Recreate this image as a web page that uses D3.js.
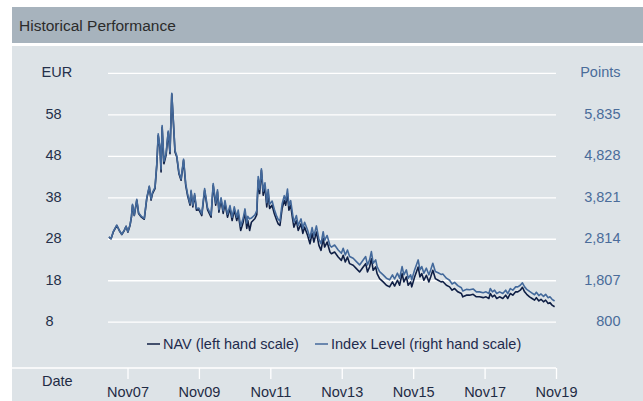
<!DOCTYPE html>
<html>
<head>
<meta charset="utf-8">
<script src="https://cdn.jsdelivr.net/npm/d3@7"></script>
<style>
  body { margin: 0; background: #fff; }
  svg text { font-family: "Liberation Sans", Arial, sans-serif; }
  .grid line { stroke: #fff; stroke-width: 1.3; }
  .grid path { display: none; }
  .axis--x path { display: none; }
  .axis--x line { stroke: #fff; stroke-width: 1.3; }
  .axis--x text { font-size: 14.5px; fill: #1f2b45; }
</style>
</head>
<body>
<div id="chart"></div>
<script>
// data (dates as decimal years)
var dates = [2007.31, 2007.37, 2007.43, 2007.53, 2007.60, 2007.67, 2007.74, 2007.79, 2007.84, 2007.90,
  2007.94, 2007.97, 2008.02, 2008.09, 2008.14, 2008.22, 2008.30, 2008.37, 2008.44, 2008.49,
  2008.53, 2008.60, 2008.65, 2008.69, 2008.74, 2008.77, 2008.80, 2008.85, 2008.91, 2008.97,
  2009.02, 2009.07, 2009.12, 2009.16, 2009.21, 2009.27, 2009.33, 2009.40, 2009.46, 2009.51,
  2009.58, 2009.61, 2009.66, 2009.71, 2009.76, 2009.83, 2009.91, 2009.99, 2010.07, 2010.17,
  2010.23, 2010.30, 2010.35, 2010.39, 2010.45, 2010.51, 2010.56, 2010.63, 2010.70, 2010.76,
  2010.82, 2010.89, 2010.93, 2011.00, 2011.07, 2011.12, 2011.17, 2011.20, 2011.25, 2011.30,
  2011.40, 2011.45, 2011.49, 2011.53, 2011.58, 2011.63, 2011.68, 2011.73, 2011.77, 2011.81,
  2011.88, 2011.94, 2012.01, 2012.05, 2012.10, 2012.16, 2012.22, 2012.26, 2012.31, 2012.35,
  2012.40, 2012.45, 2012.49, 2012.56, 2012.61, 2012.69, 2012.74, 2012.79, 2012.87, 2012.94,
  2013.00, 2013.05, 2013.12, 2013.19, 2013.25, 2013.31, 2013.35, 2013.42, 2013.50, 2013.54,
  2013.63, 2013.73, 2013.82, 2013.87, 2013.93, 2013.99, 2014.05, 2014.15, 2014.24, 2014.33,
  2014.43, 2014.50, 2014.55, 2014.61, 2014.66, 2014.71, 2014.78, 2014.82, 2014.89, 2014.99,
  2015.08, 2015.17, 2015.25, 2015.31, 2015.39, 2015.45, 2015.52, 2015.57, 2015.64, 2015.69,
  2015.76, 2015.79, 2015.87, 2015.97, 2016.02, 2016.07, 2016.13, 2016.20, 2016.27, 2016.32,
  2016.38, 2016.45, 2016.53, 2016.61, 2016.66, 2016.76, 2016.85, 2016.92, 2016.99, 2017.08,
  2017.18, 2017.22, 2017.32, 2017.41, 2017.51, 2017.60, 2017.69, 2017.79, 2017.87, 2017.95,
  2017.99, 2018.05, 2018.11, 2018.17, 2018.25, 2018.34, 2018.42, 2018.48, 2018.55, 2018.62,
  2018.70, 2018.76, 2018.83, 2018.89, 2018.95, 2019.01, 2019.09, 2019.16, 2019.23, 2019.28,
  2019.35, 2019.41, 2019.48, 2019.54, 2019.61, 2019.66, 2019.72, 2019.79];

// NAV in EUR (left hand scale)
var nav = [28.4, 28.0, 29.6, 31.2, 30.0, 29.0, 30.0, 31.0, 29.6, 31.2,
  33.2, 36.1, 33.6, 37.3, 34.1, 33.2, 32.7, 37.7, 40.5, 37.3,
  38.9, 40.1, 45.7, 52.9, 49.7, 44.1, 54.9, 46.1, 48.1, 53.7,
  48.5, 62.9, 55.3, 48.9, 47.7, 43.7, 42.1, 46.9, 40.9, 38.5,
  36.1, 39.3, 35.7, 38.5, 34.9, 35.0, 33.6, 39.7, 35.0, 33.2,
  40.9, 36.1, 39.3, 34.4, 37.3, 34.1, 36.5, 33.2, 35.3, 32.4,
  34.9, 32.4, 34.1, 30.0, 32.0, 34.4, 30.5, 32.4, 30.0, 32.0,
  32.9, 33.8, 42.1, 38.9, 44.5, 38.5, 40.5, 35.7, 38.9, 35.3,
  36.1, 34.1, 32.4, 31.6, 31.2, 35.3, 37.3, 36.1, 38.9, 34.9,
  36.1, 33.0, 30.8, 32.4, 30.0, 31.6, 29.3, 30.8, 28.9, 26.8,
  29.3, 27.2, 29.6, 26.4, 25.2, 28.1, 26.0, 27.2, 24.8, 24.4,
  24.8, 23.6, 22.8, 24.0, 22.4, 23.6, 22.0, 21.6, 20.8, 20.0,
  21.2, 22.0, 20.0, 21.2, 23.2, 20.4, 21.2, 19.6, 18.4, 17.6,
  16.8, 16.4, 17.6, 16.6, 18.0, 16.8, 19.6, 17.6, 18.8, 16.8,
  17.6, 16.4, 18.8, 21.2, 18.8, 19.6, 18.0, 19.2, 17.6, 18.8,
  20.4, 18.4, 18.0, 17.6, 17.7, 16.8, 16.4, 15.6, 16.0, 15.2,
  14.8, 14.0, 14.4, 14.4, 14.6, 14.0, 14.0, 13.8, 14.0, 13.6,
  14.8, 14.0, 14.4, 13.6, 14.0, 13.6, 14.4, 13.6, 14.8, 14.4,
  15.2, 15.2, 15.6, 16.3, 15.2, 14.6, 14.0, 13.6, 13.2, 13.8,
  13.0, 13.4, 12.8, 13.2, 12.4, 12.6, 12.0, 11.6];

// Index level in points (right hand scale)
var indexLevel = [2864, 2814, 2985, 3146, 3015, 2924, 3025, 3116, 2985, 3146,
  3347, 3649, 3388, 3770, 3448, 3357, 3307, 3811, 4093, 3780,
  3941, 4062, 4626, 5361, 5029, 4505, 5563, 4697, 4878, 5432,
  4928, 6348, 5593, 4959, 4828, 4425, 4264, 4747, 4153, 3911,
  3670, 3992, 3629, 3911, 3549, 3559, 3418, 4032, 3569, 3388,
  4153, 3680, 4002, 3519, 3811, 3498, 3740, 3408, 3619, 3337,
  3589, 3337, 3509, 3116, 3317, 3539, 3196, 3357, 3297, 3317,
  3398, 3498, 4324, 4012, 4515, 3972, 4173, 3690, 4012, 3649,
  3730, 3529, 3357, 3287, 3247, 3660, 3861, 3740, 4022, 3619,
  3740, 3428, 3216, 3378, 3136, 3297, 3065, 3216, 3035, 2834,
  3086, 2884, 3126, 2804, 2693, 2985, 2773, 2894, 2652, 2612,
  2663, 2542, 2461, 2582, 2421, 2542, 2381, 2340, 2260, 2179,
  2300, 2381, 2179, 2300, 2501, 2220, 2300, 2139, 2018, 1938,
  1857, 1817, 1938, 1837, 1978, 1857, 2139, 1938, 2058, 1857,
  1938, 1817, 2058, 2300, 2058, 2139, 1978, 2099, 1938, 2058,
  2220, 2018, 1988, 1948, 1958, 1857, 1807, 1716, 1756, 1676,
  1625, 1545, 1585, 1575, 1595, 1525, 1525, 1505, 1525, 1484,
  1605, 1525, 1565, 1484, 1525, 1484, 1565, 1484, 1605, 1565,
  1646, 1646, 1686, 1746, 1646, 1585, 1535, 1494, 1454, 1515,
  1434, 1474, 1414, 1464, 1384, 1404, 1343, 1303];

var leftTicks = [8, 18, 28, 38, 48, 58];
var rightTicks = [800, 1807, 2814, 3821, 4828, 5835];
var xTickYears = [2007.83, 2009.83, 2011.83, 2013.83, 2015.83, 2017.83, 2019.83];
var xTickLabels = ["Nov07", "Nov09", "Nov11", "Nov13", "Nov15", "Nov17", "Nov19"];
var seriesNames = ["NAV (left hand scale)", "Index Level (right hand scale)"];

var W = 643, H = 401;
var navColor = "#0f1f45", idxColor = "#43699b";

// 1: svg + background panels
var svg = d3.select("#chart").append("svg")
    .attr("width", W)
    .attr("height", H);

svg.append("rect").attr("x", 12).attr("y", 7).attr("width", W - 12).attr("height", 36)
    .attr("fill", "#a7b3bd");
svg.append("text").attr("x", 19).attr("y", 31)
    .attr("font-size", "15.5px").attr("fill", "#2b2b2b")
    .text("Historical Performance");
svg.append("rect").attr("x", 12).attr("y", 46).attr("width", W - 12).attr("height", H - 46)
    .attr("fill", "#dde3e7");

// 2: scales
var x = d3.scaleLinear().domain([2007.83, 2019.83]).range([127.5, 556]);
var y = d3.scaleLinear().domain([8, 68]).range([321.7, 72.9]);
var yRight = d3.scaleLinear().domain([800, 6842]).range([321.7, 72.9]);
var plotLeft = 108, plotRight = 556;

// 3: grid
var yGrid = d3.axisLeft(y).tickValues(leftTicks.concat([68]))
    .tickSize(-(plotRight - plotLeft)).tickFormat("");
svg.append("g")
    .attr("class", "grid")
    .attr("transform", "translate(" + plotLeft + ",0)")
    .call(yGrid);

// 4: y labels
svg.append("g").selectAll("text")
    .data(leftTicks)
  .enter().append("text")
    .attr("x", 45.5)
    .attr("y", function(d) { return y(d) + 4.5; })
    .attr("font-size", "14.5px").attr("fill", "#25304a")
    .text(function(d) { return d; });
svg.append("text").attr("x", 41.5).attr("y", y(68) + 4.5)
    .attr("font-size", "14.5px").attr("fill", "#25304a").text("EUR");

var fmt = d3.format(",");
svg.append("g").selectAll("text")
    .data(rightTicks)
  .enter().append("text")
    .attr("x", 620.5)
    .attr("y", function(d) { return yRight(d) + 4.5; })
    .attr("text-anchor", "end")
    .attr("font-size", "14.5px").attr("fill", "#4a6c9a")
    .text(function(d) { return fmt(d); });
svg.append("text").attr("x", 620.5).attr("y", y(68) + 4.5)
    .attr("text-anchor", "end")
    .attr("font-size", "14.5px").attr("fill", "#4a6c9a").text("Points");

// 5: lines
var navLine = d3.line()
    .x(function(d, i) { return x(dates[i]); })
    .y(function(d) { return y(d); });
var idxLine = d3.line()
    .x(function(d, i) { return x(dates[i]); })
    .y(function(d) { return yRight(d); });

svg.append("path")
    .attr("d", navLine(nav))
    .attr("fill", "none").attr("stroke", navColor)
    .attr("stroke-width", 1.6).attr("stroke-linejoin", "round");
svg.append("path")
    .attr("d", idxLine(indexLevel))
    .attr("fill", "none").attr("stroke", idxColor)
    .attr("stroke-width", 1.6).attr("stroke-linejoin", "round");

// 6: legend
var legend = [
  {name: seriesNames[0], color: navColor, x: 147},
  {name: seriesNames[1], color: idxColor, x: 315}
];
var lg = svg.append("g").selectAll("g")
    .data(legend)
  .enter().append("g")
    .attr("transform", function(d) { return "translate(" + d.x + ",344)"; });
lg.append("line")
    .attr("x1", 0).attr("x2", 13)
    .attr("stroke", function(d) { return d.color; })
    .attr("stroke-width", 1.5);
lg.append("text")
    .attr("x", 16).attr("y", 4.5)
    .attr("font-size", "14.5px").attr("fill", "#1f2b4d")
    .text(function(d) { return d.name; });

// 7: x axis
var xAxis = d3.axisBottom(x)
    .tickValues(xTickYears)
    .tickSize(11)
    .tickPadding(8)
    .tickFormat(function(d, i) { return xTickLabels[i]; });
svg.append("g")
    .attr("class", "axis axis--x")
    .attr("transform", "translate(0,368)")
    .call(xAxis);
svg.append("line")
    .attr("x1", 12).attr("x2", x(xTickYears[xTickYears.length - 1]))
    .attr("y1", 368).attr("y2", 368)
    .attr("stroke", "#fff").attr("stroke-width", 1.3);
svg.append("text").attr("x", 42).attr("y", 385.5)
    .attr("font-size", "14.5px").attr("fill", "#1f2b45").text("Date");
</script>
</body>
</html>
